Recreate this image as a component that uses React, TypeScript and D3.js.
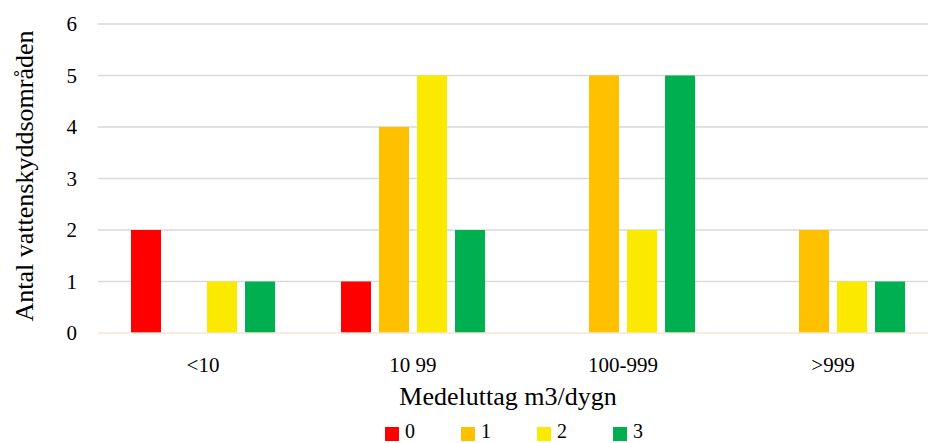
import React from 'react';
import * as d3 from 'd3';

const categories = ['<10', '10 99', '100-999', '>999'];
const seriesNames = ['0', '1', '2', '3'];
const seriesColors = ['#FF0000', '#FFC000', '#FCE900', '#00B050'];
const values0 = [2, 1, 0, 0];
const values1 = [0, 4, 5, 2];
const values2 = [1, 5, 2, 1];
const values3 = [1, 2, 5, 1];
const yTicks = [0, 1, 2, 3, 4, 5, 6];

const series = [values0, values1, values2, values3];

const width = 928;
const height = 443;
const margin = { top: 24, left: 98, right: -10, bottom: 110 };
const font = '"Liberation Serif", "DejaVu Serif", serif';

const App: React.FC = () => {
  const innerW = width - margin.left - margin.right;
  const innerH = height - margin.top - margin.bottom;

  const x0 = d3.scaleBand().domain(categories).range([0, innerW]).paddingInner(0.314).paddingOuter(0.157);
  const x1 = d3.scaleBand().domain(seriesNames).range([0, x0.bandwidth()]).paddingInner(0.21).paddingOuter(0);
  const y = d3.scaleLinear().domain([0, 6]).range([innerH, 0]);

  const legendX = [385, 461, 537, 613];

  return (
    <svg width={width} height={height} style={{ position: 'absolute', left: 0, top: 0, background: '#fff' }}>
      <g transform={`translate(${margin.left},${margin.top})`}>
        {yTicks.filter((t) => t > 0).map((t) => (
          <line key={t} x1={0} x2={innerW} y1={y(t)} y2={y(t)} stroke="#D9D9D9" strokeWidth={1.3} />
        ))}
        {yTicks.map((t) => (
          <text
            key={`l${t}`}
            x={-21}
            y={y(t)}
            dy="0.35em"
            textAnchor="end"
            fontFamily={font}
            fontSize={21}
            fill="#000"
          >
            {t}
          </text>
        ))}
        {categories.map((c, ci) => (
          <g key={c} transform={`translate(${x0(c)},0)`}>
            {series.map((vals, si) =>
              vals[ci] > 0 ? (
                <rect
                  key={si}
                  x={x1(seriesNames[si])}
                  y={y(vals[ci])}
                  width={x1.bandwidth()}
                  height={y(0) - y(vals[ci])}
                  fill={seriesColors[si]}
                />
              ) : null
            )}
            <text
              x={x0.bandwidth() / 2}
              y={innerH + 39}
              textAnchor="middle"
              fontFamily={font}
              fontSize={21}
              fill="#000"
            >
              {c}
            </text>
          </g>
        ))}
        <line x1={0} x2={innerW} y1={y(0)} y2={y(0)} stroke="#F8E5D2" strokeWidth={1.5} />
      </g>
      <text
        transform={`translate(33,176) rotate(-90)`}
        textAnchor="middle"
        fontFamily={font}
        fontSize={26}
        fill="#000"
      >
        Antal vattenskyddsområden
      </text>
      <text x={508} y={405} textAnchor="middle" fontFamily={font} fontSize={26} fill="#000">
        Medeluttag m3/dygn
      </text>
      {seriesNames.map((s, i) => (
        <g key={s}>
          <rect x={legendX[i]} y={427} width={14} height={14} fill={seriesColors[i]} />
          <text x={legendX[i] + 20} y={438} fontFamily={font} fontSize={20} fill="#000">
            {s}
          </text>
        </g>
      ))}
    </svg>
  );
};

export default App;
